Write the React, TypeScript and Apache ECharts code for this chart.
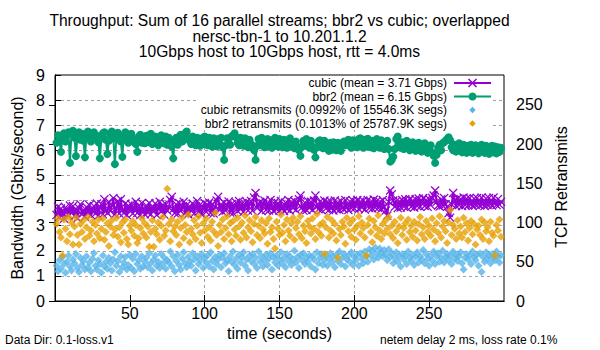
import React, { useEffect, useRef } from 'react';
import * as echarts from 'echarts';

// ---- texts ----
const titleLines = [
  'Throughput: Sum of 16 parallel streams; bbr2 vs cubic; overlapped',
  'nersc-tbn-1 to 10.201.1.2',
  '10Gbps host to 10Gbps host, rtt = 4.0ms',
];
const seriesNames = [
  'cubic (mean = 3.71 Gbps)',
  'bbr2 (mean = 6.15 Gbps)',
  'cubic retransmits (0.0992% of 15546.3K segs)',
  'bbr2 retransmits (0.1013% of 25787.9K segs)',
];
const xTitle = 'time (seconds)';
const yTitle = 'Bandwidth (Gbits/second)';
const y2Title = 'TCP Retransmits';
const footLeft = 'Data Dir: 0.1-loss.v1';
const footRight = 'netem delay 2 ms, loss rate 0.1%';

// ---- axes ----
const startTime = 1; // seconds, one sample per second
const xMin = 0;
const xMax = 300;
const xInterval = 50;
const yMin = 0;
const yMax = 9;
const yInterval = 1;
const y2Min = 0;
const y2Max = 288;
const y2Interval = 50;
const xTickValues = [50, 100, 150, 200, 250];
const y2TickValues = [0, 50, 100, 150, 200, 250];

// ---- data (Gbps per second) ----
const cubicGbps = [
  3.42, 3.75, 3.35, 3.68, 3.5, 3.28, 3.72, 3.58, 3.4, 3.8,
  3.55, 3.78, 3.38, 3.65, 3.3, 3.7, 3.85, 3.45, 3.62, 3.36,
  3.74, 3.5, 3.82, 3.42, 3.6, 3.78, 3.48, 3.88, 3.4, 3.72,
  3.85, 3.45, 4.05, 3.6, 3.5, 3.95, 3.58, 3.8, 4.1, 3.45,
  3.7, 3.98, 3.48, 4.05, 3.62, 3.5, 3.88, 3.42, 3.8, 3.6,
  3.85, 3.48, 3.72, 3.95, 3.5, 3.78, 3.42, 3.9, 3.6, 3.45,
  3.8, 3.52, 3.9, 3.45, 3.75, 3.58, 3.88, 3.42, 3.7, 3.95,
  3.55, 3.82, 3.44, 3.86, 3.6, 3.72, 4.02, 4.15, 3.65, 3.5,
  3.85, 3.48, 3.9, 3.58, 3.75, 3.95, 3.5, 3.82, 3.45, 3.78,
  3.6, 3.88, 3.48, 3.76, 3.98, 3.55, 3.84, 3.45, 3.7, 3.9,
  3.55, 3.82, 3.92, 3.5, 3.86, 3.48, 3.75, 4.0, 4.15, 3.62,
  3.85, 3.55, 3.92, 3.6, 3.8, 3.96, 3.52, 3.86, 3.5, 3.8,
  3.92, 3.58, 3.98, 3.65, 3.88, 3.55, 3.85, 3.95, 3.6, 3.9,
  3.98, 3.6, 4.12, 4.3, 3.7, 3.85, 3.95, 3.58, 3.88, 4.0,
  3.62, 3.92, 3.6, 4.02, 3.72, 3.58, 3.95, 3.65, 3.9, 3.6,
  3.98, 3.68, 3.58, 3.92, 3.66, 4.02, 3.6, 3.94, 3.7, 3.98,
  3.62, 3.9, 4.05, 4.2, 3.72, 3.6, 3.92, 3.62, 3.98, 3.7,
  3.95, 3.62, 4.0, 4.2, 3.75, 3.65, 3.95, 3.62, 3.88, 4.0,
  3.68, 3.94, 3.62, 3.98, 3.7, 3.6, 4.0, 3.66, 3.92, 3.62,
  3.98, 3.7, 3.65, 4.02, 3.72, 3.62, 3.96, 3.7, 4.0, 3.68,
  3.92, 4.02, 3.66, 3.96, 3.72, 4.0, 3.64, 3.9, 4.02, 3.7,
  3.96, 3.68, 4.04, 3.72, 3.98, 3.7, 3.95, 3.66, 4.02, 3.74,
  3.6, 3.4, 3.95, 4.4, 4.25, 4.0, 3.75, 3.98, 3.7, 3.96,
  3.72, 4.02, 3.76, 4.05, 3.72, 3.98, 4.06, 3.75, 4.0, 3.72,
  4.05, 3.78, 4.08, 3.75, 4.0, 4.1, 3.78, 4.02, 3.75, 4.06,
  3.82, 4.1, 4.2, 4.4, 3.95, 3.8, 3.76, 4.05, 3.8, 4.1,
  3.85, 3.75, 3.5, 3.32, 3.85, 4.3, 4.02, 3.78, 4.08, 3.82,
  4.06, 3.78, 4.12, 3.82, 4.08, 3.8, 4.1, 3.85, 3.78, 4.08,
  3.82, 4.1, 3.86, 3.8, 4.12, 3.85, 3.78, 4.08, 3.82, 4.1,
  3.86, 3.8, 4.12, 3.88, 3.82, 4.06, 3.84, 3.95,
];

const bbr2Gbps = [
  6.3, 6.6, 6.42, 5.94, 6.55, 6.68, 6.35, 6.62, 6.72, 5.5,
  6.7, 6.78, 6.5, 5.77, 6.58, 6.72, 6.42, 6.66, 6.38, 5.72,
  6.6, 6.75, 6.5, 6.35, 6.62, 6.72, 6.48, 6.58, 6.32, 5.68,
  6.5, 6.68, 6.72, 6.42, 5.85, 6.38, 6.66, 6.75, 6.48, 5.45,
  6.55, 6.7, 6.45, 6.35, 5.74, 6.6, 6.72, 6.4, 6.3, 6.52,
  6.66, 6.45, 6.32, 6.25, 5.94, 6.55, 6.62, 6.3, 6.5, 6.28,
  6.58, 6.32, 6.6, 6.66, 6.25, 6.48, 6.55, 6.3, 6.2, 6.52,
  6.6, 6.32, 6.28, 6.55, 6.22, 6.5, 6.3, 6.15, 5.68, 6.42,
  6.5, 6.22, 6.55, 6.62, 6.35, 6.58, 6.68, 6.75, 6.45, 6.38,
  6.25, 6.55, 6.32, 6.2, 6.5, 6.3, 6.18, 6.48, 6.25, 6.55,
  6.3, 6.2, 6.5, 6.28, 6.15, 6.48, 6.25, 6.16, 6.45, 6.22,
  6.5, 6.12, 5.62, 6.2, 6.48, 6.28, 6.22, 6.55, 6.6, 6.68,
  6.52, 6.3, 6.2, 6.5, 6.28, 6.18, 6.48, 6.22, 6.12, 6.42,
  6.25, 6.1, 6.0, 5.62, 6.18, 6.45, 6.2, 6.5, 6.25, 6.12,
  6.38, 6.45, 6.15, 6.4, 6.1, 6.42, 6.5, 6.2, 6.15, 6.45,
  6.22, 6.12, 6.42, 6.2, 6.1, 6.4, 6.48, 6.22, 6.15, 6.08,
  6.35, 6.12, 6.0, 5.78, 6.15, 6.38, 6.18, 6.45, 6.2, 6.1,
  6.38, 6.15, 6.02, 5.72, 6.12, 6.36, 6.4, 6.18, 6.08, 6.38,
  6.1, 6.25, 5.98, 6.3, 6.02, 6.32, 6.1, 6.0, 6.3, 6.08,
  5.98, 6.28, 6.35, 6.2, 6.32, 6.42, 6.18, 6.1, 6.4, 6.15,
  6.38, 6.12, 6.45, 6.48, 6.2, 6.1, 6.42, 6.15, 6.46, 6.22,
  6.12, 6.38, 6.08, 6.32, 6.45, 6.2, 6.1, 6.4, 6.12, 6.05,
  6.32, 6.38, 6.05, 5.55, 5.62, 5.75, 6.05, 6.45, 6.55, 6.25,
  6.1, 6.32, 6.05, 6.3, 6.38, 6.1, 6.0, 6.28, 6.32, 6.05,
  5.98, 6.25, 6.3, 6.0, 5.95, 6.22, 6.28, 6.0, 5.9, 6.15,
  6.2, 5.92, 5.78, 5.5, 5.82, 6.1, 6.22, 6.0, 6.28, 6.32,
  6.38, 6.45, 6.52, 6.4, 6.12, 6.0, 6.22, 5.95, 6.18, 6.28,
  6.02, 5.92, 6.22, 6.0, 5.9, 6.18, 5.95, 6.22, 5.9, 6.15,
  6.2, 5.95, 5.88, 6.15, 6.22, 5.96, 5.9, 6.18, 5.92, 5.86,
  6.12, 6.18, 5.92, 6.15, 5.88, 6.12, 5.94, 6.1,
];

// ---- data (retransmits per second) ----
const cubicRetrans = [
  45, 38, 52, 41, 56, 47, 36, 50, 58, 44,
  39, 53, 48, 60, 42, 37, 55, 46, 51, 40,
  57, 43, 49, 38, 54, 61, 45, 40, 52, 47,
  36, 58, 44, 50, 41, 55, 48, 39, 53, 62,
  45, 51, 37, 57, 43, 49, 56, 40, 46, 59,
  42, 54, 38, 60, 47, 52, 41, 57, 44, 50,
  55, 43, 61, 48, 39, 53, 58, 45, 50, 42,
  60, 47, 55, 41, 52, 49, 63, 44, 57, 38,
  51, 59, 46, 40, 54, 62, 48, 43, 56, 50,
  45, 61, 53, 39, 57, 47, 52, 60, 42, 55,
  49, 58, 44, 62, 51, 40, 56, 47, 53, 59,
  43, 55, 61, 48, 52, 38, 57, 50, 63, 46,
  54, 41, 59, 49, 56, 62, 45, 53, 39, 58,
  51, 60, 47, 55, 42, 63, 50, 57, 44, 52,
  59, 46, 54, 61, 40, 56, 49, 58, 45, 53,
  62, 48, 55, 43, 60, 51, 57, 46, 53, 64,
  49, 56, 42, 59, 52, 61, 47, 55, 50, 58,
  44, 57, 53, 40, 62, 48, 55, 60, 46, 52,
  58, 45, 54, 61, 49, 56, 43, 59, 51, 63,
  47, 55, 60, 44, 53, 58, 50, 62, 46, 56,
  52, 59, 45, 61, 54, 48, 63, 57, 50, 66,
  58, 64, 53, 68, 60, 55, 67, 62, 57, 65,
  59, 52, 66, 56, 61, 48, 55, 62, 50, 57,
  44, 60, 53, 58, 47, 63, 55, 51, 59, 46,
  56, 62, 49, 57, 53, 65, 48, 60, 54, 45,
  58, 52, 63, 47, 57, 61, 50, 55, 64, 49,
  56, 60, 52, 58, 47, 63, 54, 59, 51, 57,
  62, 48, 40, 55, 60, 53, 58, 47, 63, 56,
  52, 59, 45, 61, 37, 56, 50, 62, 54, 58,
  48, 60, 55, 52, 63, 57, 49, 58,
];

const bbr2Retrans = [
  98, 105, 88, 81, 58, 104, 92, 76, 107, 85,
  100, 72, 95, 106, 84, 72, 98, 88, 103, 79,
  94, 107, 83, 90, 101, 76, 97, 86, 104, 80,
  92, 105, 78, 88, 99, 70, 95, 103, 84, 91,
  106, 82, 94, 75, 100, 87, 104, 79, 72, 96,
  90, 102, 83, 97, 74, 80, 93, 105, 86, 99,
  81, 95, 69, 88, 103, 69, 92, 85, 100, 78,
  96, 107, 83, 90, 143, 98, 76, 104, 89, 95,
  84, 101, 72, 93, 106, 80, 97, 88, 110, 75,
  92, 85, 103, 79, 96, 108, 87, 74, 99, 90,
  105, 82, 94, 77, 101, 89, 112, 84, 70, 97,
  88, 104, 79, 93, 108, 85, 99, 76, 102, 91,
  83, 106, 95, 78, 100, 87, 109, 81, 94, 103,
  89, 75, 98, 107, 84, 96, 80, 103, 91, 86,
  99, 73, 105, 88, 94, 79, 67, 101, 92, 84,
  110, 87, 97, 76, 104, 90, 83, 99, 106, 78,
  93, 101, 85, 108, 80, 96, 89, 74, 102, 95,
  86, 105, 92, 79, 111, 88, 97, 83, 100, 60,
  94, 107, 81, 90, 103, 86, 98, 77, 55, 92,
  84, 101, 95, 73, 106, 89, 99, 82, 104, 91,
  78, 96, 108, 86, 100, 93, 81, 58, 97, 105,
  88, 75, 102, 94, 83, 109, 90, 79, 98, 86,
  103, 92, 107, 85, 96, 80, 101, 89, 74, 95,
  106, 84, 93, 99, 78, 104, 88, 96, 82, 101,
  90, 77, 98, 107, 85, 94, 79, 102, 88, 96,
  83, 105, 91, 76, 99, 87, 108, 81, 95, 102,
  89, 74, 100, 116, 84, 97, 92, 79, 103, 86,
  95, 81, 106, 88, 99, 77, 93, 102, 85, 98,
  72, 91, 96, 84, 104, 79, 100, 89, 94, 76,
  101, 87, 83, 58, 97, 90, 104, 82,
];

// ---- styles ----
const FONT = "'Liberation Sans', Arial, sans-serif";
const PURPLE = '#9400d3';
const GREEN = '#009e73';
const BLUE = '#56b4e9';
const ORANGE = '#e69f00';
const GRID_GRAY = '#a0a0a0';
const X_SYMBOL =
  'path://M1,0 L5,4 L9,0 L10,1 L6,5 L10,9 L9,10 L5,6 L1,10 L0,9 L4,5 L0,1 Z';

const toPoints = (arr: number[]) => arr.map((v, i) => [startTime + i, v]);

export default function App() {
  const ref = useRef<HTMLDivElement>(null);

  useEffect(() => {
    if (!ref.current) return;
    const chart = echarts.init(ref.current, null, { renderer: 'svg' });

    const plotCenterX = 279.5;
    const legendX = 447;
    const sampleX1 = 454;
    const sampleX2 = 491;
    const sampleC = 472.5;
    const rows = [83, 96.5, 110, 123.5];
    const titleRows = [20.5, 36, 51.5];

    const textBase = { fontFamily: FONT, fill: '#000' };

    const graphics: any[] = [];
    titleLines.forEach((line, i) => {
      graphics.push({
        type: 'text',
        x: plotCenterX,
        y: titleRows[i],
        style: { ...textBase, text: line, align: 'center', verticalAlign: 'middle', fontSize: 15.6, lineHeight: 15 },
      });
    });
    // opaque key box
    graphics.push({
      type: 'rect',
      z: 1,
      shape: { x: 198, y: 76, width: 295, height: 54 },
      style: { fill: '#fff' },
    });
    seriesNames.forEach((name, i) => {
      graphics.push({
        type: 'text',
        z: 5,
        x: legendX,
        y: rows[i],
        style: { ...textBase, text: name, align: 'right', verticalAlign: 'middle', fontSize: 12, lineHeight: 12 },
      });
    });
    graphics.push(
      { type: 'line', z: 5, shape: { x1: sampleX1, y1: rows[0], x2: sampleX2, y2: rows[0] }, style: { stroke: PURPLE, lineWidth: 2 } },
      { type: 'line', z: 5, shape: { x1: sampleC - 4, y1: rows[0] - 4, x2: sampleC + 4, y2: rows[0] + 4 }, style: { stroke: PURPLE, lineWidth: 1.6 } },
      { type: 'line', z: 5, shape: { x1: sampleC - 4, y1: rows[0] + 4, x2: sampleC + 4, y2: rows[0] - 4 }, style: { stroke: PURPLE, lineWidth: 1.6 } },
      { type: 'line', z: 5, shape: { x1: sampleX1, y1: rows[1], x2: sampleX2, y2: rows[1] }, style: { stroke: GREEN, lineWidth: 2 } },
      { type: 'circle', z: 5, shape: { cx: sampleC, cy: rows[1], r: 4 }, style: { fill: GREEN } },
      { type: 'polygon', z: 5, shape: { points: [[sampleC, rows[2] - 3.2], [sampleC + 3.2, rows[2]], [sampleC, rows[2] + 3.2], [sampleC - 3.2, rows[2]]] }, style: { fill: BLUE } },
      { type: 'polygon', z: 5, shape: { points: [[sampleC, rows[3] - 3.2], [sampleC + 3.2, rows[3]], [sampleC, rows[3] + 3.2], [sampleC - 3.2, rows[3]]] }, style: { fill: ORANGE } }
    );
    graphics.push(
      {
        type: 'text',
        x: 17,
        y: 188,
        rotation: Math.PI / 2,
        style: { ...textBase, text: yTitle, align: 'center', verticalAlign: 'middle', fontSize: 16 },
      },
      {
        type: 'text',
        x: 561,
        y: 187,
        rotation: Math.PI / 2,
        style: { ...textBase, text: y2Title, align: 'center', verticalAlign: 'middle', fontSize: 16 },
      },
      {
        type: 'text',
        x: plotCenterX,
        y: 333,
        style: { ...textBase, text: xTitle, align: 'center', verticalAlign: 'middle', fontSize: 16 },
      },
      {
        type: 'text',
        x: 5,
        y: 340,
        style: { ...textBase, text: footLeft, align: 'left', verticalAlign: 'middle', fontSize: 12 },
      },
      {
        type: 'text',
        x: 380,
        y: 340,
        style: { ...textBase, text: footRight, align: 'left', verticalAlign: 'middle', fontSize: 12 },
      }
    );

    const splitLineStyle = {
      show: true,
      showMinLine: false,
      showMaxLine: false,
      lineStyle: { color: GRID_GRAY, type: [3, 3], width: 1 },
    };
    const blackLine = { show: true, lineStyle: { color: '#000', width: 1 } };

    const option: any = {
      animation: false,
      backgroundColor: '#fff',
      textStyle: { fontFamily: FONT },
      grid: {
        left: 55,
        top: 75,
        width: 449,
        height: 226,
        show: true,
        borderColor: '#000',
        borderWidth: 1,
        backgroundColor: 'transparent',
      },
      xAxis: [
        {
          type: 'value',
          min: xMin,
          max: xMax,
          interval: xInterval,
          axisLine: blackLine,
          axisTick: { inside: true, length: 6, lineStyle: { color: '#000' }, customValues: xTickValues },
          axisLabel: { customValues: xTickValues, fontSize: 16, color: '#000', margin: 4, fontFamily: FONT },
          splitLine: splitLineStyle,
        },
        {
          type: 'value',
          position: 'top',
          min: xMin,
          max: xMax,
          interval: xInterval,
          axisLine: blackLine,
          axisTick: { inside: true, length: 6, lineStyle: { color: '#000' }, customValues: xTickValues },
          axisLabel: { show: false },
          splitLine: { show: false },
        },
      ],
      yAxis: [
        {
          type: 'value',
          min: yMin,
          max: yMax,
          interval: yInterval,
          axisLine: blackLine,
          axisTick: { inside: true, length: 6, lineStyle: { color: '#000' } },
          axisLabel: { fontSize: 16, color: '#000', margin: 10, fontFamily: FONT },
          splitLine: splitLineStyle,
        },
        {
          type: 'value',
          position: 'right',
          min: y2Min,
          max: y2Max,
          interval: y2Interval,
          axisLine: blackLine,
          axisTick: { inside: true, length: 6, lineStyle: { color: '#000' }, customValues: y2TickValues },
          axisLabel: { customValues: y2TickValues, fontSize: 16, color: '#000', margin: 12, fontFamily: FONT },
          splitLine: { show: false },
        },
      ],
      graphic: graphics,
      series: [
        {
          name: seriesNames[0],
          type: 'line',
          z: 2,
          xAxisIndex: 0,
          yAxisIndex: 0,
          data: toPoints(cubicGbps),
          symbol: X_SYMBOL,
          symbolSize: 9,
          showAllSymbol: true,
          lineStyle: { color: PURPLE, width: 2 },
          itemStyle: { color: PURPLE },
          silent: true,
        },
        {
          name: seriesNames[1],
          type: 'line',
          z: 2,
          xAxisIndex: 0,
          yAxisIndex: 0,
          data: toPoints(bbr2Gbps),
          symbol: 'circle',
          symbolSize: 8,
          showAllSymbol: true,
          lineStyle: { color: GREEN, width: 2 },
          itemStyle: { color: GREEN },
          silent: true,
        },
        {
          name: seriesNames[2],
          type: 'scatter',
          z: 3,
          xAxisIndex: 0,
          yAxisIndex: 1,
          data: toPoints(cubicRetrans),
          symbol: 'diamond',
          symbolSize: 8,
          itemStyle: { color: BLUE },
          silent: true,
        },
        {
          name: seriesNames[3],
          type: 'scatter',
          z: 3,
          xAxisIndex: 0,
          yAxisIndex: 1,
          data: toPoints(bbr2Retrans),
          symbol: 'diamond',
          symbolSize: 8,
          itemStyle: { color: ORANGE },
          silent: true,
        },
      ],
    };

    chart.setOption(option);
    return () => {
      chart.dispose();
    };
  }, []);

  return (
    <div
      ref={ref}
      style={{ position: 'fixed', left: 0, top: 0, width: 600, height: 350, background: '#fff' }}
    />
  );
}
